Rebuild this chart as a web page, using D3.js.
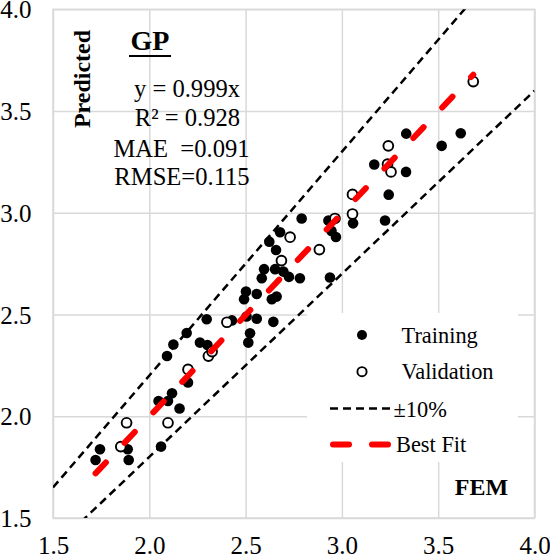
<!DOCTYPE html>
<html><head><meta charset="utf-8">
<script src="https://cdn.jsdelivr.net/npm/d3@7/dist/d3.min.js"></script>
<style>body{margin:0;background:#fff}svg{display:block}</style>
</head><body>
<svg id="c" width="550" height="556"></svg>
<script>
// ---- data ----
const trainFEM  = [1.744,1.721,1.888,1.893,2.061,2.048,2.097,2.118,2.157,2.201,2.092,2.125,2.194,2.263,2.302,2.298,2.429,2.505,2.558,2.523,2.514,2.644,2.502,2.492,2.558,2.636,2.661,2.584,2.596,2.653,2.696,2.725,2.782,2.623,2.658,2.679,2.791,2.938,2.930,2.946,2.969,3.058,3.168,3.333,3.224,3.243,3.334,3.518,3.617];
const trainPred = [1.838,1.785,1.838,1.785,1.851,2.075,2.075,2.113,2.038,2.166,2.296,2.353,2.409,2.362,2.350,2.477,2.471,2.490,2.479,2.408,2.362,2.464,2.613,2.575,2.601,2.575,2.588,2.678,2.723,2.723,2.711,2.685,2.678,2.858,2.817,2.904,2.972,2.682,2.962,2.911,2.881,2.948,3.237,3.201,2.962,3.089,3.389,3.329,3.391];
const validFEM  = [1.852,1.882,2.097,2.201,2.307,2.326,2.403,2.686,2.731,2.883,2.964,3.055,3.055,3.237,3.255,3.241,3.682];
const validPred = [1.851,1.968,1.968,2.230,2.296,2.318,2.462,2.765,2.880,2.819,2.972,2.994,3.090,3.239,3.201,3.329,3.645];
const axisTicks  = [1.5,2.0,2.5,3.0,3.5,4.0];
const tickLabels = ["1.5","2.0","2.5","3.0","3.5","4.0"];
const bandFactors = [1.1,0.9];
const fitSlope = 0.999;
const statLines = ["y = 0.999x","R\u00B2 = 0.928","MAE  =0.091","RMSE=0.115"];
const legendLabels = ["Training","Validation","\u00B110%","Best Fit"];

// ---- layout ----
const L=53, R=534.5, T=9.3, B=518;
const font='"Liberation Serif","Times New Roman",serif';
const svg=d3.select("#c");
const x=d3.scaleLinear().domain([1.5,4]).range([L,R]);
const y=d3.scaleLinear().domain([1.5,4]).range([B,T]);
const grid="#d9d9d9";

// gridlines via axes
const gx=svg.append("g").attr("transform",`translate(0,${B})`)
  .call(d3.axisBottom(x).tickValues(axisTicks).tickSize(-(B-T)).tickFormat(""));
const gy=svg.append("g").attr("transform",`translate(${L},0)`)
  .call(d3.axisLeft(y).tickValues(axisTicks).tickSize(-(R-L)).tickFormat(""));
[gx,gy].forEach(g=>{g.select(".domain").remove();g.selectAll("line").attr("stroke",grid).attr("stroke-width",1.5);});
svg.append("rect").attr("x",L).attr("y",T).attr("width",R-L).attr("height",B-T)
  .attr("fill","none").attr("stroke",grid).attr("stroke-width",1.5);

// tick labels via axes
const lx=svg.append("g").attr("transform",`translate(0,${B})`)
  .call(d3.axisBottom(x).tickValues(axisTicks).tickSize(0).tickFormat((d,i)=>tickLabels[i]));
lx.selectAll("text").attr("y",35.5).attr("dy",0);
const ly=svg.append("g").attr("transform",`translate(${L},0)`)
  .call(d3.axisLeft(y).tickValues(axisTicks).tickSize(0).tickFormat((d,i)=>tickLabels[i]));
ly.selectAll("text").attr("x",-21.5).attr("dy","0.34em");
[lx,ly].forEach(g=>{g.select(".domain").remove();g.attr("font-family",font).attr("font-size",25);g.selectAll("text").attr("fill","#000");});

// legend background
const lg={x0:307,y0:313,x1:518,y1:462};
svg.append("rect").attr("x",lg.x0).attr("y",lg.y0).attr("width",lg.x1-lg.x0).attr("height",lg.y1-lg.y0).attr("fill","#fff");

// clip
svg.append("clipPath").attr("id","clip").append("rect").attr("x",L).attr("y",T).attr("width",R-L).attr("height",B-T);

// points
const train=trainFEM.map((v,i)=>[v,trainPred[i]]);
const valid=validFEM.map((v,i)=>[v,validPred[i]]);
svg.append("g").selectAll("circle").data(train).join("circle")
  .attr("cx",d=>x(d[0])).attr("cy",d=>y(d[1])).attr("r",5.3).attr("fill","#000");
svg.append("g").selectAll("circle").data(valid).join("circle")
  .attr("cx",d=>x(d[0])).attr("cy",d=>y(d[1])).attr("r",4.9).attr("fill","#fff").attr("stroke","#000").attr("stroke-width",1.9);

// ±10% lines
const line=d3.line().x(d=>x(d[0])).y(d=>y(d[1]));
svg.append("g").attr("clip-path","url(#clip)").selectAll("path").data(bandFactors).join("path")
  .attr("d",f=>line([[1.5,1.5*f],[4,4*f]]))
  .attr("fill","none").attr("stroke","#000").attr("stroke-width",2.5).attr("stroke-dasharray","8 5");

// best fit
const allFEM=trainFEM.concat(validFEM);
const fr=d3.extent(allFEM);
svg.append("path").attr("d",line(fr.map(v=>[v,v*fitSlope])))
  .attr("fill","none").attr("stroke","#ff0000").attr("stroke-width",6).attr("stroke-linecap","round").attr("stroke-dasharray","15 27");

// legend
const ly0=[335,371.7,408.5,444.5];
const lgd=svg.append("g");
lgd.append("circle").attr("cx",362).attr("cy",ly0[0]).attr("r",5).attr("fill","#000");
lgd.append("circle").attr("cx",362).attr("cy",ly0[1]).attr("r",4.6).attr("fill","#fff").attr("stroke","#000").attr("stroke-width",1.9);
lgd.append("line").attr("x1",330).attr("x2",395).attr("y1",ly0[2]).attr("y2",ly0[2]).attr("stroke","#000").attr("stroke-width",2.5).attr("stroke-dasharray","8 5");
lgd.append("line").attr("x1",333).attr("x2",394).attr("y1",ly0[3]).attr("y2",ly0[3]).attr("stroke","#ff0000").attr("stroke-width",6).attr("stroke-linecap","round").attr("stroke-dasharray","16 23");
const lbx=[401.5,401.5,393.5,396];
lgd.selectAll("text").data(legendLabels).join("text")
  .attr("x",(d,i)=>lbx[i]).attr("y",(d,i)=>[343.3,379.3,416.7,451.7][i])
  .attr("font-family",font).attr("font-size",22.4).attr("fill","#000").text(d=>d);

// annotations
svg.append("text").attr("x",150).attr("y",50).attr("text-anchor","middle")
  .attr("font-family",font).attr("font-weight","bold").attr("font-size",28).text("GP");
svg.append("line").attr("x1",129).attr("x2",171).attr("y1",56).attr("y2",56).attr("stroke","#000").attr("stroke-width",2);
svg.append("text").attr("transform","translate(89.5,79) rotate(-90)").attr("text-anchor","middle")
  .attr("font-family",font).attr("font-weight","bold").attr("font-size",24).text("Predicted");
svg.append("text").attr("x",481.5).attr("y",495).attr("text-anchor","middle")
  .attr("font-family",font).attr("font-weight","bold").attr("font-size",24).text("FEM");
const sx=[187,187.5,181.5,182], sy=[97,126,156.5,185];
svg.append("g").selectAll("text").data(statLines).join("text")
  .attr("x",(d,i)=>sx[i]).attr("y",(d,i)=>sy[i]).attr("text-anchor","middle")
  .style("white-space","pre").attr("font-family",font).attr("font-size",24.6).attr("fill","#000").text(d=>d);
</script>
</body></html>
